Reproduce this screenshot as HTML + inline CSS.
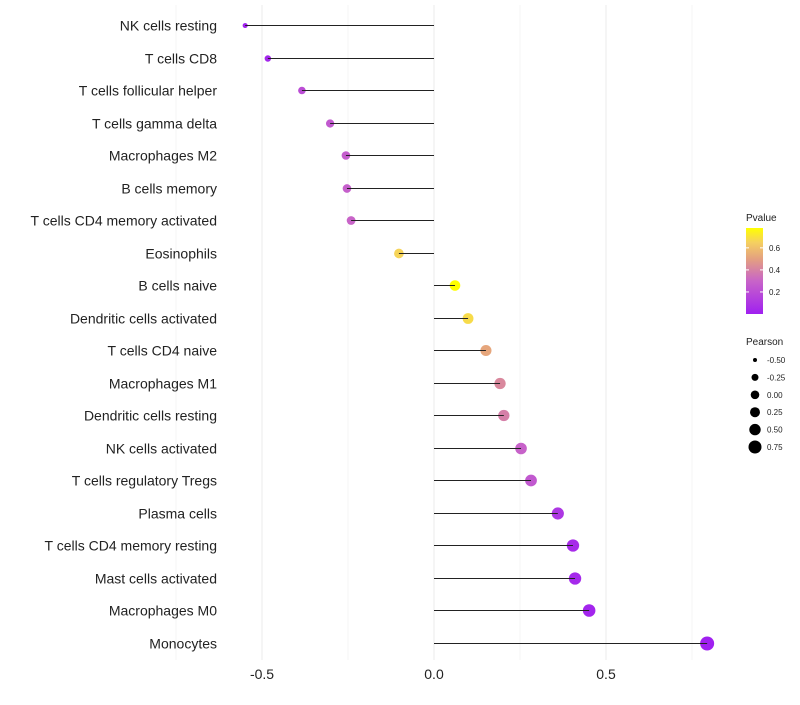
<!DOCTYPE html>
<html><head><meta charset="utf-8"><style>
body{margin:0;background:#fff;font-family:"Liberation Sans",sans-serif}
</style></head><body>
<svg id="c" width="800" height="700" xmlns="http://www.w3.org/2000/svg"></svg>
<script>
const categories=["NK cells resting","T cells CD8","T cells follicular helper","T cells gamma delta","Macrophages M2","B cells memory","T cells CD4 memory activated","Eosinophils","B cells naive","Dendritic cells activated","T cells CD4 naive","Macrophages M1","Dendritic cells resting","NK cells activated","T cells regulatory  Tregs ","Plasma cells","T cells CD4 memory resting","Mast cells activated","Macrophages M0","Monocytes"];
const pearson=[-0.549,-0.483,-0.384,-0.302,-0.256,-0.253,-0.241,-0.102,0.061,0.099,0.151,0.192,0.203,0.253,0.282,0.360,0.404,0.410,0.451,0.794];
const pvalues=[0.01,0.03,0.2,0.25,0.27,0.28,0.3,0.66,0.78,0.68,0.52,0.42,0.39,0.29,0.25,0.1,0.05,0.04,0.02,0.0];
const xTicks=[-0.5,0,0.5];
const xTickLabels=["-0.5","0.0","0.5"];
const pTicks=[0.2,0.4,0.6];
const sizeTicks=[-0.5,-0.25,0,0.25,0.5,0.75];
const sizeTickLabels=["-0.50","-0.25","0.00","0.25","0.50","0.75"];
const NS="http://www.w3.org/2000/svg",svg=document.getElementById('c');
function mk(t,a,p){const e=document.createElementNS(NS,t);for(const k in a)e.setAttribute(k,a[k]);(p||svg).appendChild(e);return e;}
const X=v=>434+v*344;
const Y=i=>Math.round(25+i*32.5)+0.5;
const R=v=>2.5+4.5*Math.pow(Math.max(0,(v+0.55)/1.34),0.6);
function lerp(a,b,t){return a.map((x,i)=>Math.round(x+(b[i]-x)*t));}
const stops=[[0,[160,32,240]],[0.3,[200,100,200]],[0.5,[228,160,128]],[0.65,[245,208,96]],[0.78,[255,255,0]]];
function col(p){p=Math.max(0,Math.min(0.78,p));
 for(let i=0;i<stops.length-1;i++){if(p<=stops[i+1][0]){const c=lerp(stops[i][1],stops[i+1][1],(p-stops[i][0])/(stops[i+1][0]-stops[i][0]));return `rgb(${c})`;}}return 'rgb(255,255,0)';}
[-0.75,-0.25,0.25,0.75].forEach(v=>{const g=mk('line',{x1:X(v),x2:X(v),y1:5,y2:660,stroke:'#f5f5f5','stroke-width':1});});
xTicks.forEach((v,i)=>{const g=mk('line',{x1:X(v),x2:X(v),y1:5,y2:660,stroke:'#ebebeb','stroke-width':1});
 const t=mk('text',{x:X(v),y:679,'text-anchor':'middle','font-size':14,fill:'#222'});t.textContent=xTickLabels[i];});
categories.forEach((c,i)=>{const y=Y(i);
 const t=mk('text',{x:217,y:y+5,'text-anchor':'end','font-size':14,fill:'#222'});t.textContent=c;
 const p=mk('circle',{cx:X(pearson[i]),cy:y,r:R(pearson[i]),fill:col(pvalues[i])});
 const l=mk('line',{x1:X(0),x2:X(pearson[i]),y1:y,y2:y,stroke:'#222','stroke-width':1});
});
const defs=mk('defs',{});const gr=mk('linearGradient',{id:'pg',x1:0,y1:1,x2:0,y2:0},defs);
stops.forEach(s=>mk('stop',{offset:s[0]/0.78,'stop-color':col(s[0])},gr));
let t=mk('text',{x:746,y:221,'font-size':10,fill:'#222'});t.textContent='Pvalue';
const bar=mk('rect',{x:746,y:228,width:17,height:86,fill:'url(#pg)'});
pTicks.forEach(p=>{const y=314-p/0.78*86;
 mk('line',{x1:746,x2:749,y1:y,y2:y,stroke:'#fff'});mk('line',{x1:760,x2:763,y1:y,y2:y,stroke:'#fff'});
 const tt=mk('text',{x:769,y:y+3,'font-size':8,fill:'#222'});tt.textContent=p.toFixed(1);});
t=mk('text',{x:746,y:345,'font-size':10,fill:'#222'});t.textContent='Pearson';
const legR=[2,3.5,4.3,5,5.7,6.5];
sizeTicks.forEach((v,i)=>{const y=360+i*17.4;
 const c=mk('circle',{cx:755,cy:y,r:legR[i],fill:'#000'});
 const tt=mk('text',{x:767,y:y+3,'font-size':8,fill:'#222'});tt.textContent=sizeTickLabels[i];});
</script>
</body></html>
